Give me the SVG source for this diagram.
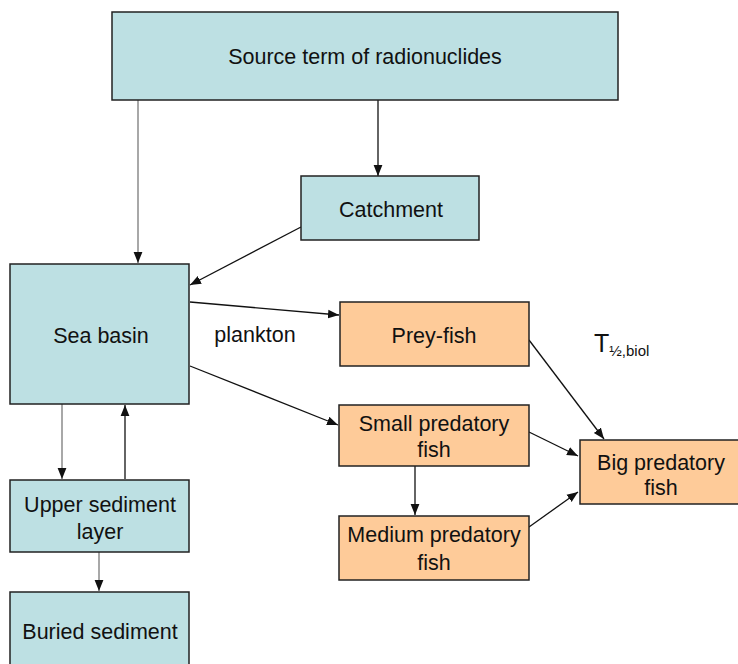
<svg xmlns="http://www.w3.org/2000/svg" width="738" height="664" viewBox="0 0 738 664">
<defs>
<marker id="ah" viewBox="0 0 10 10" refX="10" refY="5" markerWidth="11" markerHeight="11" markerUnits="userSpaceOnUse" orient="auto">
<path d="M0,1 L10,5 L0,9 Z" fill="#111"/>
</marker>
<style>
.b{fill:#bde0e3;stroke:#222;stroke-width:1.5}
.o{fill:#fecb99;stroke:#222;stroke-width:1.5}
.t{font-family:"Liberation Sans",Arial,sans-serif;font-size:21.5px;fill:#111;text-anchor:middle}
.c{fill:none;stroke:#111;stroke-width:1.3;marker-end:url(#ah)}
.g{fill:none;stroke:#a8a8a8;stroke-width:2;marker-end:url(#ah)}
</style>
</defs>
<rect width="738" height="664" fill="#fff"/>
<g id="connectors">
<line class="g" x1="138" y1="100" x2="138" y2="263"/>
<line class="c" x1="378" y1="100" x2="378" y2="176"/>
<line class="c" x1="301" y1="227" x2="190" y2="285"/>
<line class="c" x1="190" y1="302" x2="339" y2="315"/>
<line class="c" x1="190" y1="366" x2="338" y2="425"/>
<line class="c" x1="529" y1="340" x2="604" y2="439"/>
<line class="c" x1="529" y1="432" x2="578" y2="456"/>
<line class="c" x1="415" y1="466" x2="415" y2="515"/>
<line class="c" x1="529" y1="527" x2="578" y2="492"/>
<line class="g" x1="62" y1="404" x2="62" y2="479"/>
<line class="c" x1="125" y1="479" x2="125" y2="405"/>
<line class="g" x1="99" y1="552" x2="99" y2="591"/>
</g>
<g id="source"><rect class="b" x="112" y="12" width="506" height="88"/><text class="t" x="365" y="64">Source term of radionuclides</text></g>
<g id="catchment"><rect class="b" x="301" y="176" width="178" height="64"/><text class="t" x="391" y="217">Catchment</text></g>
<g id="sea"><rect class="b" x="10" y="264" width="179" height="140"/><text class="t" x="101" y="343">Sea basin</text></g>
<g id="plankton-label"><text class="t" x="255" y="342">plankton</text></g>
<g id="prey"><rect class="o" x="340" y="302" width="189" height="64"/><text class="t" x="434" y="343">Prey-fish</text></g>
<g id="thalf"><text font-family="Liberation Sans,Arial,sans-serif" font-size="25" fill="#111" x="594" y="352">T<tspan font-size="15" dy="4">½,biol</tspan></text></g>
<g id="small"><rect class="o" x="339" y="405" width="190" height="61"/><text class="t" x="434" y="431">Small predatory</text><text class="t" x="434" y="457">fish</text></g>
<g id="big"><rect class="o" x="580" y="440" width="160" height="64"/><text class="t" x="661" y="470">Big predatory</text><text class="t" x="661" y="495">fish</text></g>
<g id="medium"><rect class="o" x="339" y="516" width="190" height="64"/><text class="t" x="434" y="542">Medium predatory</text><text class="t" x="434" y="570">fish</text></g>
<g id="upper"><rect class="b" x="10" y="480" width="179" height="72"/><text class="t" x="100" y="512">Upper sediment</text><text class="t" x="100" y="539">layer</text></g>
<g id="buried"><rect class="b" x="10" y="592" width="179" height="80"/><text class="t" x="100" y="639">Buried sediment</text></g>
</svg>
